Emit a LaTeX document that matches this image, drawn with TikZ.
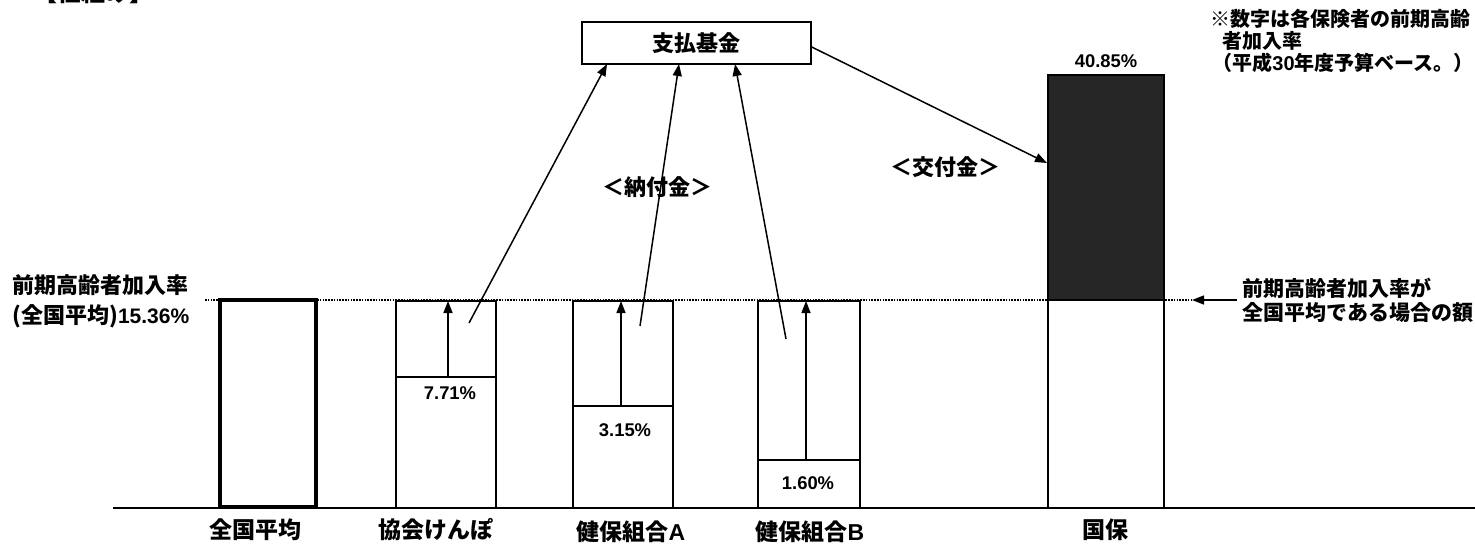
\documentclass[tikz,border=0pt]{standalone}
\usepackage{fontspec}
\setmainfont{Noto Sans CJK JP}
\newfontfamily\lat{Liberation Sans}
\usetikzlibrary{arrows.meta}
\tikzset{
  thinline/.style={line width=0.75pt},
  barbox/.style={draw, line width=0.75pt},
  arr/.style={line width=0.75pt, -{Triangle[length=6pt,width=4.5pt]}},
  lbl/.style={font=\bfseries\fontsize{11}{13}\selectfont, inner sep=0pt},
  botlbl/.style={font=\bfseries\fontsize{11.5}{13}\selectfont, inner sep=0pt},
  midlbl/.style={font=\bfseries\fontsize{10.5}{12}\selectfont, inner sep=0pt},
  notelbl/.style={font=\bfseries\fontsize{10}{11}\selectfont, inner sep=0pt},
  pct/.style={font=\lat\bfseries\fontsize{9.2}{11}\selectfont, inner sep=0pt},
  dotline/.style={line width=0.75pt, dash pattern=on 0.8pt off 0.6pt},
}
\begin{document}
\begin{tikzpicture}[x=0.5pt,y=-0.5pt]
\useasboundingbox (0,0) rectangle (1475,543);
\fill[white] (0,0) rectangle (1475,543);

% title (cut off at top, as in the reference)
\node[font=\bfseries\fontsize{12}{14}\selectfont, inner sep=0pt] (title) at (93,-8) {【仕組み】};

% note
\node[notelbl, anchor=west] (n1) at (1210,19) {※数字は各保険者の前期高齢};
\node[notelbl, anchor=west] (n2) at (1222,41) {者加入率};
\node[notelbl, anchor=west] (n3) at (1212,63) {（平成{\lat 30}年度予算ベース。）};

% baseline
\coordinate (bl) at (113,508);
\coordinate (br) at (1475,508);
\draw[line width=1pt] (bl) -- (br);

% dotted average line
\coordinate (dl) at (205,300);
\coordinate (dr) at (1192,300);
\draw[dotline] (dl) -- (dr);
\coordinate (rt) at (1237,300);
\draw[arr] (rt) -- (dr);

% national average bar
\draw[line width=2pt] (220,300) rectangle (316,507);

% Kyokai kenpo
\draw[barbox] (396,301) rectangle (496,508);
\draw[thinline] (396,377) -- (496,377);
\coordinate (ka) at (448,377); \coordinate (kb) at (448,301);
\draw[arr] (ka) -- (kb);
\node[pct] (p1) at (450,393) {7.71\%};

% Kenpo A
\draw[barbox] (573,301) rectangle (673,508);
\draw[thinline] (573,406) -- (673,406);
\coordinate (aa) at (621,406); \coordinate (ab) at (621,301);
\draw[arr] (aa) -- (ab);
\node[pct] (p2) at (625,430) {3.15\%};

% Kenpo B
\draw[barbox] (758,301) rectangle (860,508);
\draw[thinline] (758,460) -- (860,460);
\coordinate (ba) at (806,460); \coordinate (bb) at (806,301);
\draw[arr] (ba) -- (bb);
\node[pct] (p3) at (808,483) {1.60\%};

% Kokuho
\filldraw[fill=black!85, draw=black, line width=0.75pt] (1048,75) rectangle (1164,300);
\draw[barbox] (1048,300) rectangle (1164,508);
\node[pct] (p4) at (1106,61) {40.85\%};

% fund
\node[draw, line width=0.75pt, minimum width=114.5pt, minimum height=21pt, lbl] (fund) at (696.5,43) {支払基金};

\coordinate (t1) at (469,323); \coordinate (h1) at (607,64);
\coordinate (t2) at (640,326); \coordinate (h2) at (679,64);
\coordinate (t3) at (786,339); \coordinate (h3) at (735,64);
\draw[arr] (t1) -- (h1);
\draw[arr] (t2) -- (h2);
\draw[arr] (t3) -- (h3);
\coordinate (kk) at (1047,163);
\draw[arr] ([yshift=-2pt]fund.east) -- (kk);

\node[lbl] (nofu) at (657,187) {＜納付金＞};
\node[lbl] (kofu) at (945,167) {＜交付金＞};

% left label
\node[lbl, anchor=west] (l1) at (12,285) {前期高齢者加入率};
\node[lbl, anchor=west] (l2) at (12,316) {(全国平均){\lat\fontsize{10.5}{12}\selectfont 15.36\%}};

% right label
\node[midlbl, anchor=west] (r1) at (1242,288) {前期高齢者加入率が};
\node[midlbl, anchor=west] (r2) at (1242,312) {全国平均である場合の額};

% bottom labels
\node[botlbl] (b1) at (255,530) {全国平均};
\node[botlbl] (b2) at (436,530) {協会けんぽ};
\node[botlbl] (b3) at (631,532) {健保組合{\lat A}};
\node[botlbl] (b4) at (810,532) {健保組合{\lat B}};
\node[botlbl] (b5) at (1105,530) {国保};
\end{tikzpicture}
\end{document}
